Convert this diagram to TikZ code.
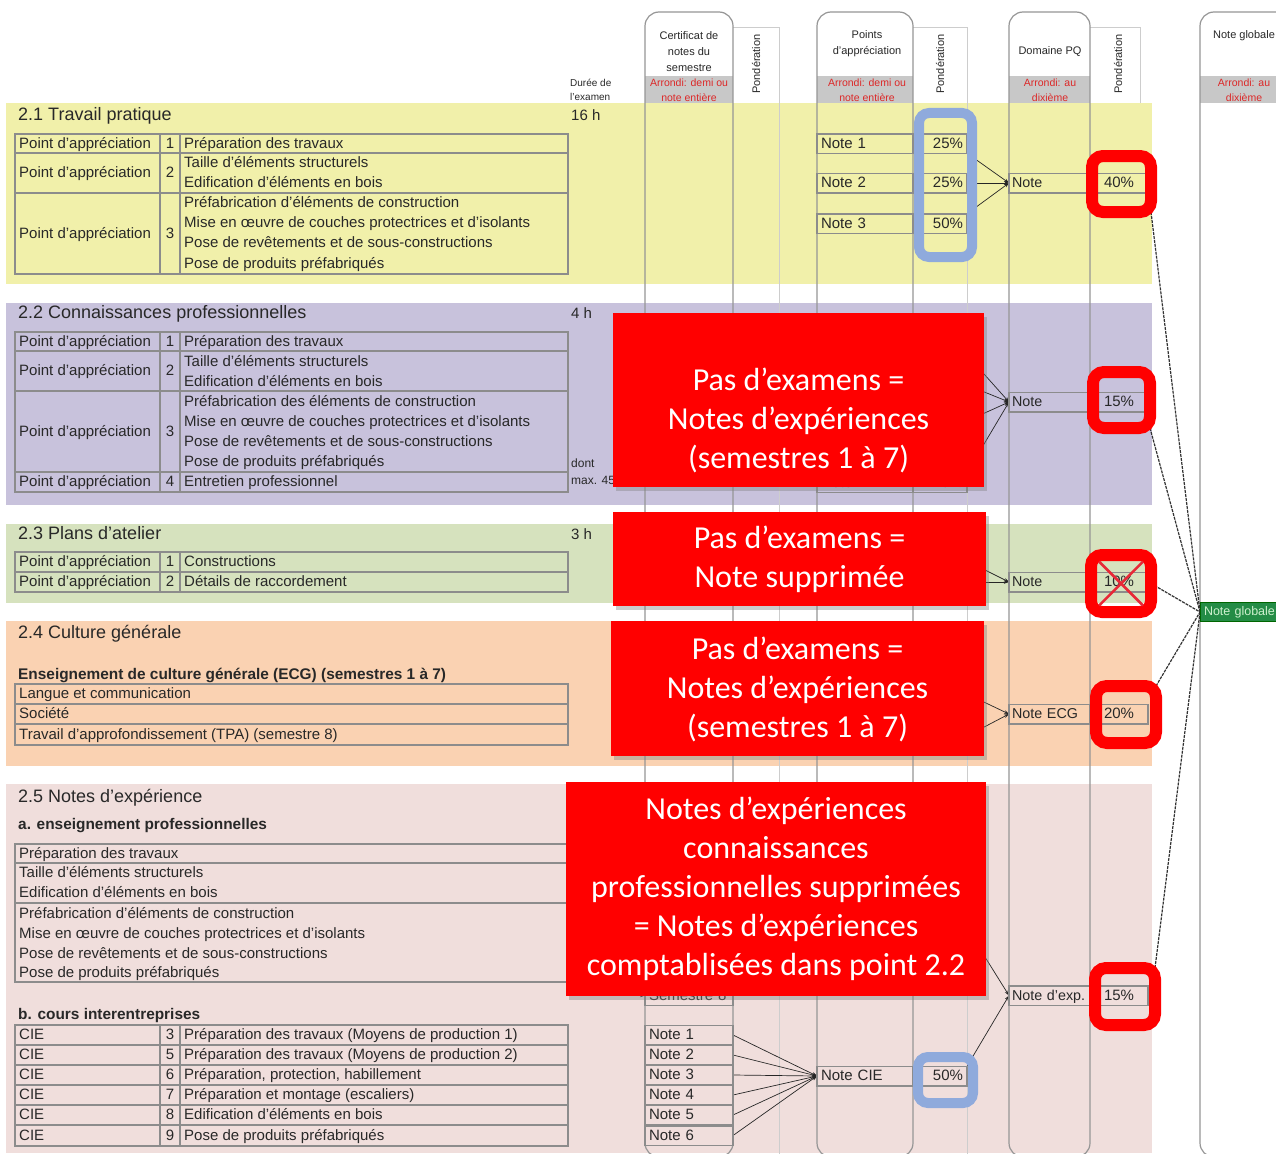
\documentclass[tikz,border=0pt]{standalone}
\usepackage{fontspec}
\setmainfont{Liberation Sans}
\newfontfamily\calib{Carlito}
\usetikzlibrary{arrows.meta,shadows}
\pgfdeclarelayer{bgl}
\pgfdeclarelayer{lnl}
\pgfsetlayers{bgl,lnl,main}
\definecolor{yel}{RGB}{241,240,170}
\definecolor{pur}{RGB}{200,194,220}
\definecolor{grn}{RGB}{214,226,190}
\definecolor{org}{RGB}{250,210,178}
\definecolor{pnk}{RGB}{240,222,220}
\definecolor{colg}{RGB}{150,150,150}
\definecolor{tabg}{RGB}{140,140,140}
\definecolor{pong}{RGB}{205,205,205}
\definecolor{bandg}{RGB}{200,200,200}
\definecolor{rtxt}{RGB}{220,40,40}
\definecolor{tdark}{RGB}{40,40,40}
\definecolor{blu}{RGB}{143,170,220}
\definecolor{gbox}{RGB}{36,140,70}
\definecolor{gtxt}{RGB}{205,240,205}
\definecolor{xred}{RGB}{232,40,55}
\newcommand\fsz[1]{\fontsize{#1}{#1}\selectfont}
\begin{document}
\begin{tikzpicture}[x=1pt,y=-1pt,
 tx/.style={anchor=west,inner sep=0pt,text height=11.5pt,text depth=2.5pt,font=\fsz{15},text=tdark},
 nx/.style={tx,anchor=center},
 sx/.style={tx,font=\fsz{12},text height=9pt,text depth=2.5pt},
 ttl/.style={tx,font=\fsz{18},text height=13.5pt,text depth=3pt},
 bld/.style={tx,font=\bfseries\fsz{15.4}},
 hd/.style={inner sep=0pt,align=center,font=\fontsize{11}{16}\selectfont,text=tdark},
 rd/.style={inner sep=0pt,align=center,font=\fontsize{10.5}{15}\selectfont,text=rtxt},
 pd/.style={inner sep=0pt,rotate=90,font=\fsz{11},text=tdark},
 cellbase/.style={draw=tabg,line width=1.5pt,minimum height=19.5pt,inner ysep=0pt,inner xsep=4pt,outer sep=0pt,font=\fsz{15},text=tdark,text height=11.5pt,text depth=2.5pt},
 ccell/.style={cellbase,text width=80pt,align=left},
 ncell/.style={cellbase,text width=88pt,align=left},
 pcell/.style={cellbase,text width=46pt,align=right},
 dcell/.style={cellbase,inner xsep=3pt,text width=75pt,align=left,font=\fsz{14.3}},
 qcell/.style={cellbase,text width=50pt,align=center},
 tab/.style={draw=tabg,line width=1.5pt},
 colline/.style={draw=colg,line width=1.2pt,rounded corners=14pt},
 pondline/.style={draw=pong,line width=1pt},
 con/.style={draw=black!85,line width=0.7pt,-{Stealth[length=5pt,width=3.5pt]}},
 gcon/.style={draw=black!80,line width=1.2pt,dash pattern=on 3pt off 1pt},
 bluebox/.style={draw=blu,line width=10pt,rounded corners=10pt,inner sep=0pt,outer sep=0pt},
 redring/.style={draw=red,line width=12pt,rounded corners=11pt,inner sep=0pt,outer sep=0pt},
 redbox/.style={fill=red,inner sep=0pt,outer sep=0pt,drop shadow={shadow xshift=3pt,shadow yshift=-4pt,opacity=0.4}},
 redtxt/.style={inner sep=0pt,align=center,text=white,font=\calib\fontsize{32}{39}\selectfont}
]
\useasboundingbox (0,0) rectangle (1276,1153);
\begin{pgfonlayer}{bgl}
\fill[white] (0,0) rectangle (1276,1153);
\fill[yel] (6,103) rectangle (1152,284);
\fill[pur] (6,303) rectangle (1152,505);
\fill[grn] (6,524) rectangle (1152,603);
\fill[org] (6,621) rectangle (1152,766);
\fill[pnk] (6,784) rectangle (1152,1153);
\fill[bandg] (645,76) rectangle (733,103);
\fill[bandg] (817,76) rectangle (913,103);
\fill[bandg] (1009,76) rectangle (1090,103);
\fill[bandg] (1200,76) rectangle (1290,103);
\draw[pondline] (733,28) -- (779,28) -- (779,1157);
\draw[pondline] (913,28) -- (967,28) -- (967,1157);
\draw[pondline] (1090,28) -- (1140,28) -- (1140,103);
\draw[colline] (645,12) rectangle (733,1157);
\draw[colline] (817,12) rectangle (913,1157);
\draw[colline] (1009,12) rectangle (1090,1157);
\draw[colline] (1200,12) rectangle (1300,1157);
% tables
\draw[tab] (15,134) rectangle (568,274);
\draw[tab] (15,153) -- (568,153) (15,193) -- (568,193) (160,134) -- (160,274) (180,134) -- (180,274);
\draw[tab] (15,332) rectangle (568,492);
\draw[tab] (15,351) -- (568,351) (15,391) -- (568,391) (15,472) -- (568,472) (160,332) -- (160,492) (180,332) -- (180,492);
\draw[tab] (15,552) rectangle (568,592);
\draw[tab] (15,572) -- (568,572) (160,552) -- (160,592) (180,552) -- (180,592);
\draw[tab] (15,684) rectangle (568,745);
\draw[tab] (15,704) -- (568,704) (15,724) -- (568,724);
\draw[tab] (15,844) rectangle (568,982);
\draw[tab] (15,863) -- (568,863) (15,903) -- (568,903);
\draw[tab] (15,1025) rectangle (568,1146);
\draw[tab] (15,1045) -- (568,1045) (15,1065) -- (568,1065) (15,1085) -- (568,1085) (15,1105) -- (568,1105) (15,1125) -- (568,1125) (160,1025) -- (160,1146) (180,1025) -- (180,1146);
\end{pgfonlayer}
% header
\node[hd] (hc) at (689,52) {Certificat de\\notes du\\semestre};
\node[rd] (rc) at (689,90.5) {Arrondi: demi ou\\note entière};
\node[hd] (hp) at (867,44) {Points\\d'appréciation};
\node[rd] (rp) at (867,90.5) {Arrondi: demi ou\\note entière};
\node[hd] (hdq) at (1050,52) {Domaine PQ};
\node[rd] (rdq) at (1050,90.5) {Arrondi: au\\dixième};
\node[hd] (hg) at (1244,36) {Note globale};
\node[rd] (rg) at (1244,90.5) {Arrondi: au\\dixième};
\node[pd] (pd1) at (756,64) {Pondération};
\node[pd] (pd2) at (940,64) {Pondération};
\node[pd] (pd3) at (1118,64) {Pondération};
\node[hd,anchor=west,align=left,font=\fontsize{10}{14}\selectfont] (du) at (570,90) {Durée de\\l'examen};
% 2.1
\node[ttl] (t21) at (18,115) {2.1 Travail pratique};
\node[tx] (h21) at (571,116) {16 h};
\node[tx] (a211) at (19,143.5) {Point d'appréciation};
\node[nx] (n211) at (170,143.5) {1};
\node[tx] (d211) at (184,143.5) {Préparation des travaux};
\node[tx] (a212) at (19,173) {Point d'appréciation};
\node[nx] (n212) at (170,173) {2};
\node[tx] (d212a) at (184,163) {Taille d'éléments structurels};
\node[tx] (d212b) at (184,183) {Edification d'éléments en bois};
\node[tx] (a213) at (19,233.5) {Point d'appréciation};
\node[nx] (n213) at (170,233.5) {3};
\node[tx] (d213a) at (184,203) {Préfabrication d'éléments de construction};
\node[tx] (d213b) at (184,223) {Mise en œuvre de couches protectrices et d'isolants};
\node[tx] (d213c) at (184,243) {Pose de revêtements et de sous-constructions};
\node[tx] (d213d) at (184,263.5) {Pose de produits préfabriqués};
\node[ncell] (n11) at (865,143.5) {Note 1};
\node[pcell] (p11) at (940,143.5) {25\%};
\node[ncell] (n12) at (865,183) {Note 2};
\node[pcell] (p12) at (940,183) {25\%};
\node[ncell] (n13) at (865,223.5) {Note 3};
\node[pcell] (p13) at (940,223.5) {50\%};
\node[dcell] (d1) at (1049.5,183) {Note};
\node[qcell] (q1) at (1119,183) {40\%};
% 2.2
\node[ttl] (t22) at (18,313) {2.2 Connaissances professionnelles};
\node[tx] (h22) at (571,314) {4 h};
\node[tx] (a221) at (19,341.5) {Point d'appréciation};
\node[nx] (n221) at (170,341.5) {1};
\node[tx] (d221) at (184,341.5) {Préparation des travaux};
\node[tx] (a222) at (19,371) {Point d'appréciation};
\node[nx] (n222) at (170,371) {2};
\node[tx] (d222a) at (184,361.5) {Taille d'éléments structurels};
\node[tx] (d222b) at (184,381.5) {Edification d'éléments en bois};
\node[tx] (a223) at (19,431.5) {Point d'appréciation};
\node[nx] (n223) at (170,431.5) {3};
\node[tx] (d223a) at (184,401.5) {Préfabrication des éléments de construction};
\node[tx] (d223b) at (184,421.5) {Mise en œuvre de couches protectrices et d'isolants};
\node[tx] (d223c) at (184,441.5) {Pose de revêtements et de sous-constructions};
\node[tx] (d223d) at (184,462) {Pose de produits préfabriqués};
\node[tx] (a224) at (19,482) {Point d'appréciation};
\node[nx] (n224) at (170,482) {4};
\node[tx] (d224) at (184,482) {Entretien professionnel};
\node[sx] (dont) at (571,464) {dont};
\node[sx] (max45) at (571,481) {max. 45};
\node[ncell] (n24) at (865,482.5) {Note 4};
\node[pcell] (p24) at (940,482.5) {15\%};
\node[dcell] (d2) at (1049.5,402) {Note};
\node[qcell] (q2) at (1119,402) {15\%};
\coordinate (k21) at (967,355);
\coordinate (k22) at (967,385);
\coordinate (k23) at (967,421);
% 2.3
\node[ttl] (t23) at (18,534) {2.3 Plans d'atelier};
\node[tx] (h23) at (571,535) {3 h};
\node[tx] (a231) at (19,562) {Point d'appréciation};
\node[nx] (n231) at (170,562) {1};
\node[tx] (d231) at (184,562) {Constructions};
\node[tx] (a232) at (19,582) {Point d'appréciation};
\node[nx] (n232) at (170,582) {2};
\node[tx] (d232) at (184,582) {Détails de raccordement};
\node[dcell] (d3) at (1049.5,582) {Note};
\node[qcell] (q3) at (1119,582) {10\%};
\coordinate (k31) at (967,561);
\coordinate (k32) at (967,582);
% 2.4
\node[ttl] (t24) at (18,633) {2.4 Culture générale};
\node[bld] (e24) at (18,675) {Enseignement de culture générale (ECG) (semestres 1 à 7)};
\node[tx] (l241) at (19,694) {Langue et communication};
\node[tx] (l242) at (19,714) {Société};
\node[tx] (l243) at (19,734.5) {Travail d'approfondissement (TPA) (semestre 8)};
\node[dcell] (d4) at (1049.5,714) {Note ECG};
\node[qcell] (q4) at (1119,714) {20\%};
\coordinate (k41) at (967,694);
\coordinate (k42) at (967,736);
% 2.5
\node[ttl] (t25) at (18,797) {2.5 Notes d'expérience};
\node[bld] (a25) at (18,825) {a. enseignement professionnelles};
\node[tx] (l251) at (19,853.5) {Préparation des travaux};
\node[tx] (l252) at (19,873) {Taille d'éléments structurels};
\node[tx] (l253) at (19,893) {Edification d'éléments en bois};
\node[tx] (l254) at (19,914) {Préfabrication d'éléments de construction};
\node[tx] (l255) at (19,934) {Mise en œuvre de couches protectrices et d'isolants};
\node[tx] (l256) at (19,954) {Pose de revêtements et de sous-constructions};
\node[tx] (l257) at (19,972.5) {Pose de produits préfabriqués};
\node[bld] (b25) at (18,1015) {b. cours interentreprises};
\foreach \yy/\nn/\dd [count=\i] in {1035/3/Préparation des travaux (Moyens de production 1),1055/5/Préparation des travaux (Moyens de production 2),1075/6/{Préparation, protection, habillement},1095/7/Préparation et montage (escaliers),1115/8/Edification d'éléments en bois,1135.5/9/Pose de produits préfabriqués}{
 \node[tx] (cie\i) at (19,\yy) {CIE};
 \node[nx] (cn\i) at (170,\yy) {\nn};
 \node[tx] (cd\i) at (184,\yy) {\dd};
 \node[ccell] (c\i) at (689,\yy) {Note \i};
}
\node[ccell] (sem8) at (689,995.5) {Semestre 8};
\coordinate (sA) at (603,995);
\node[ncell] (ncie) at (865,1076) {Note CIE};
\node[pcell] (pcie) at (940,1076) {50\%};
\node[dcell] (dexp) at (1049.5,995.5) {Note d'exp.};
\node[qcell] (qexp) at (1119,995.5) {15\%};
\coordinate (k51) at (975,941);
% Note globale
\node[fill=gbox,draw=black!60!green,line width=1pt,anchor=west,minimum height=19pt,inner xsep=4pt,inner ysep=0pt,outer sep=0pt,text=gtxt,font=\fsz{12.5},text width=87pt,align=left,text height=9pt,text depth=2.5pt] (glob) at (1200,612) {Note globale};
% rings
\node[bluebox,minimum width=53pt,minimum height=144pt] (b1) at (945.5,185) {};
\node[bluebox,minimum width=55pt,minimum height=46pt] (b2) at (945.5,1080) {};
\node[redring,minimum width=59pt,minimum height=56pt] (r1) at (1121.5,184) {};
\node[redring,minimum width=57pt,minimum height=56pt] (r2) at (1121.5,400) {};
\node[redring,minimum width=60pt,minimum height=57pt] (r3) at (1121,583.5) {};
\node[redring,minimum width=60pt,minimum height=57pt] (r4) at (1126,714.5) {};
\node[redring,minimum width=60pt,minimum height=57pt] (r5) at (1125,996.5) {};
\draw[xred,line width=2.5pt] ([shift={(-22,-22)}]r3.center) -- ([shift={(22,22)}]r3.center);
\draw[xred,line width=2.5pt] ([shift={(22,-22)}]r3.center) -- ([shift={(-22,22)}]r3.center);
% connectors
\begin{pgfonlayer}{lnl}
\draw[con] (p11.south east) -- (d1.west);
\draw[con] (p12.east) -- (d1.west);
\draw[con] (p13.north east) -- (d1.west);
\draw[con] (k21) -- (d2.west);
\draw[con] (k22) -- (d2.west);
\draw[con] (k23) -- (d2.west);
\draw[con] (p24.north east) -- (d2.west);
\draw[con] (k31) -- (d3.west);
\draw[con] (k32) -- (d3.west);
\draw[con] (k41) -- (d4.west);
\draw[con] (k42) -- (d4.west);
\draw[con] (sA) -- (sem8.west);
\foreach \i in {1,...,6}{\draw[con] (c\i.east) -- (ncie.west);}
\draw[con] (pcie.north east) -- (dexp.west);
\draw[con] (k51) -- (dexp.west);
\draw[gcon] (r1.south east) -- (glob.west);
\draw[gcon] (r2.south east) -- (glob.west);
\draw[gcon] (r3.east) -- (glob.west);
\draw[gcon] (r4.north east) -- (glob.west);
\draw[gcon] (r5.north east) -- (glob.west);
\end{pgfonlayer}
% red boxes
\node[redbox,minimum width=371pt,minimum height=174pt] (rb1) at (798.5,400) {};
\node[redtxt] (rt1) at (798.5,420) {Pas d’examens =\\Notes d’expériences\\(semestres 1 à 7)};
\node[redbox,minimum width=373pt,minimum height=94pt] (rb2) at (799.5,559) {};
\node[redtxt] (rt2) at (799.5,559.5) {Pas d’examens =\\Note supprimée};
\node[redbox,minimum width=373pt,minimum height=135pt] (rb3) at (797.5,688.5) {};
\node[redtxt] (rt3) at (797.5,689) {Pas d’examens =\\Notes d’expériences\\(semestres 1 à 7)};
\node[redbox,minimum width=420pt,minimum height=214pt] (rb4) at (776,889) {};
\node[redtxt] (rt4) at (776,888.5) {Notes d’expériences\\connaissances\\professionnelles supprimées\\= Notes d’expériences\\comptablisées dans point 2.2};
\end{tikzpicture}
\end{document}
